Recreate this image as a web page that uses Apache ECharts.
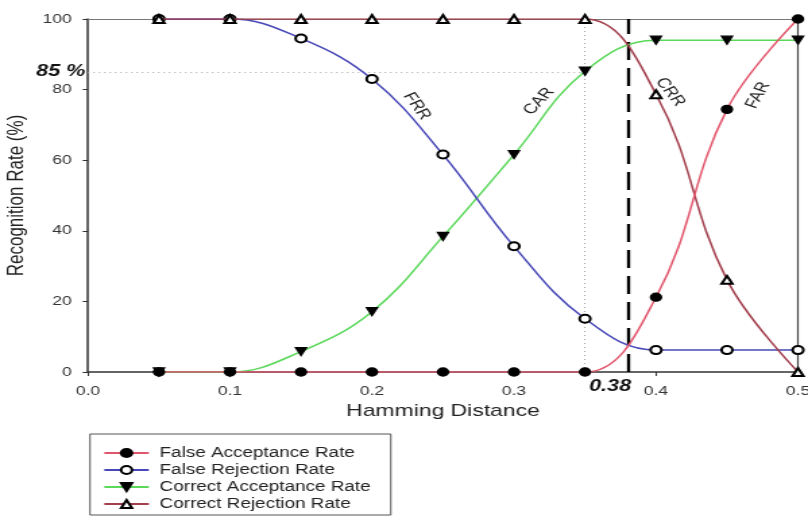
<!DOCTYPE html>
<html><head><meta charset="utf-8">
<script src="https://cdn.jsdelivr.net/npm/echarts@6/dist/echarts.min.js"></script>
<style>
html,body{margin:0;padding:0;background:#fff;overflow:hidden;width:808px;height:517px}
#c{width:599px;height:517px;transform:scaleX(1.3489);transform-origin:0 0;}
</style>
</head><body><div id="c"></div>
<script>
// ---- data ----
const hammingDistance = [0.05, 0.1, 0.15, 0.2, 0.25, 0.3, 0.35, 0.4, 0.45, 0.5];
const falseAcceptance   = [0, 0, 0, 0, 0, 0, 0, 21.2, 74.4, 100];
const falseRejection    = [100, 100, 94.5, 83, 61.6, 35.6, 15.1, 6.2, 6.2, 6.2];
const correctAcceptance = [0, 0, 5.8, 17.1, 38.4, 61.6, 85.2, 94, 94, 94];
const correctRejection  = [100, 100, 100, 100, 100, 100, 100, 78.7, 26.1, 0];
const seriesNames = ['False Acceptance Rate', 'False Rejection Rate', 'Correct Acceptance Rate', 'Correct Rejection Rate'];
const threshold = 0.38;
const targetRate = 85;
const guideX = 0.35;
const xMax = 0.5, yMax = 100;

const S = 808 / 599;
const font = '"Liberation Sans", Arial, Helvetica, sans-serif';
const chart = echarts.init(document.getElementById('c'), null, {renderer: 'canvas'});
const pairs = arr => hammingDistance.map((x, i) => [x, arr[i]]);

function lineSeries(name, data, lineColor, symbol, symbolSize, symbolRotate, z) {
  return {
    name, type: 'line', data: pairs(data), smooth: 0.4,
    symbol, symbolSize, symbolRotate: symbolRotate || 0, z,
    lineStyle: {color: lineColor, width: 1.5},
    itemStyle: {color: '#000', borderColor: '#000', borderWidth: 1.3},
    emphasis: {disabled: true}
  };
}

const series = [
  lineSeries(seriesNames[0], falseAcceptance, '#e2566c', 'circle', 8, 0, 6),
  lineSeries(seriesNames[1], falseRejection, '#4848b8', 'emptyCircle', 8, 0, 4),
  lineSeries(seriesNames[2], correctAcceptance, '#5ad85a', 'triangle', 8, 180, 3),
  lineSeries(seriesNames[3], correctRejection, '#a23e4c', 'emptyTriangle', 8, 0, 5)
];
series[1].markLine = {
  silent: true, symbol: 'none', label: {show: false}, z: 1,
  data: [
    [{coord: [0, yMax], lineStyle: {type: 'solid', color: '#777', width: 1.2}}, {coord: [xMax, yMax]}],
    [{coord: [xMax, 0], lineStyle: {type: 'solid', color: '#444', width: 1.2}}, {coord: [xMax, yMax]}],
    [{coord: [0, targetRate], lineStyle: {type: [1, 3], color: '#aaa', width: 1}}, {coord: [guideX, targetRate]}],
    [{coord: [guideX, 0], lineStyle: {type: [1, 3], color: '#aaa', width: 1}}, {coord: [guideX, yMax]}],
    [{coord: [threshold, 0], lineStyle: {type: [18, 8], color: '#000', width: 2.3}}, {coord: [threshold, yMax]}]
  ]
};

chart.setOption({
  animation: false,
  backgroundColor: '#fff',
  grid: {left: 88 / S, right: 10 / S, top: 19, bottom: 517 - 372, show: false,
         containLabel: false, outerBoundsMode: 'none'},
  xAxis: {
    type: 'value', min: 0, max: xMax, interval: 0.1,
    name: 'Hamming Distance', nameLocation: 'middle', nameGap: 29,
    nameTextStyle: {fontFamily: font, fontSize: 17, color: '#222'},
    axisLine: {show: true, onZero: false, lineStyle: {color: '#333', width: 1.5}},
    axisTick: {show: true, length: 4, lineStyle: {color: '#333'}},
    axisLabel: {fontFamily: font, fontSize: 13, color: '#333', margin: 13, formatter: v => v.toFixed(1)},
    splitLine: {show: false}
  },
  yAxis: {
    type: 'value', min: 0, max: yMax, interval: 20,
    name: 'Recognition Rate (%)', nameLocation: 'middle', nameGap: 41, nameRotate: 90,
    nameTextStyle: {fontFamily: font, fontSize: 17, color: '#222'},
    axisLine: {show: true, lineStyle: {color: '#333', width: 1.5}},
    axisTick: {show: true, length: 4, lineStyle: {color: '#333'}},
    axisLabel: {fontFamily: font, fontSize: 13, color: '#333', margin: 12},
    splitLine: {show: false}
  },
  legend: {
    orient: 'vertical', left: 90 / S, top: 434, height: 200,
    data: seriesNames,
    itemWidth: 33, itemHeight: 10, itemGap: 3,
    padding: [12, 15, 4, 9.6],
    borderColor: '#555', borderWidth: 1,
    textStyle: {fontFamily: font, fontSize: 14, lineHeight: 14, color: '#222', padding: [0, 0, 0, 3]},
    selectedMode: false
  },
  series
});

// annotations anchored in data coordinates
const px = (x, y) => chart.convertToPixel({gridIndex: 0}, [x, y]);
const curveLabels = [
  {text: 'FRR', x: 0.2317, y: 75.3, angle: -61},
  {text: 'CAR', x: 0.3176, y: 76.7, angle: 55},
  {text: 'CRR', x: 0.41, y: 79.3, angle: -59},
  {text: 'FAR', x: 0.4718, y: 78.4, angle: 66}
];
const graphics = curveLabels.map(l => {
  const p = px(l.x, l.y);
  return {type: 'text', x: p[0], y: p[1], rotation: l.angle * Math.PI / 180,
    style: {text: l.text, font: '14px ' + font, fill: '#222', align: 'center', verticalAlign: 'middle'}};
});
const p85 = px(0, targetRate);
graphics.push({type: 'text', x: p85[0] - 2, y: p85[1],
  style: {text: targetRate + ' %', font: 'italic bold 16px ' + font, fill: '#111', align: 'right', verticalAlign: 'middle'}});
const pT = px(threshold, 0);
graphics.push({type: 'text', x: pT[0] - 13, y: pT[1] + 15,
  style: {text: threshold.toFixed(2), font: 'italic bold 16px ' + font, fill: '#111', align: 'center', verticalAlign: 'middle'}});
chart.setOption({graphic: graphics});
</script>
</body></html>
